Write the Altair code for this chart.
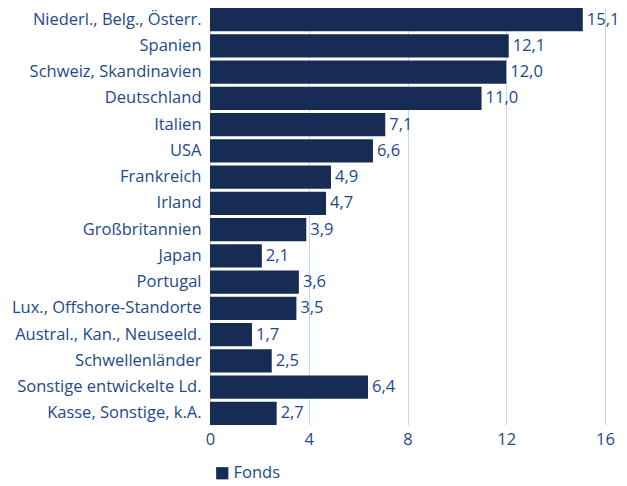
import altair as alt
import pandas as pd

categories = ["Niederl., Belg., Österr.", "Spanien", "Schweiz, Skandinavien", "Deutschland",
              "Italien", "USA", "Frankreich", "Irland", "Großbritannien", "Japan", "Portugal",
              "Lux., Offshore-Standorte", "Austral., Kan., Neuseeld.", "Schwellenländer",
              "Sonstige entwickelte Ld.", "Kasse, Sonstige, k.A."]
values = [15.1, 12.1, 12.0, 11.0, 7.1, 6.6, 4.9, 4.7, 3.9, 2.1, 3.6, 3.5, 1.7, 2.5, 6.4, 2.7]
series = ["Fonds"] * len(categories)
x_ticks = [0, 4, 8, 12, 16]

df = pd.DataFrame({"Land": categories, "Wert": values, "Serie": series})

FONT = "Open Sans"
FS = 16.5
TXT = "#1d4a8c"
BAR = "#172c55"
GRID = "#bcdde9"

base = alt.Chart(df).encode(
    y=alt.Y("Land:N", sort=categories, title=None,
            scale=alt.Scale(paddingInner=0.114, paddingOuter=0),
            axis=alt.Axis(domain=False, ticks=False, labelFont=FONT, labelFontSize=FS,
                          labelColor=TXT, labelPadding=9, labelLimit=300)),
)

bars = base.mark_bar().encode(
    x=alt.X("Wert:Q", title=None, scale=alt.Scale(domain=[0, 16], nice=False),
            axis=alt.Axis(values=x_ticks, domain=False, ticks=False, grid=True,
                          gridColor=GRID, gridWidth=1, labelFont=FONT, labelFontSize=FS,
                          labelColor=TXT, labelPadding=6, labelFlush=False)),
    color=alt.Color("Serie:N", scale=alt.Scale(range=[BAR]),
                    legend=alt.Legend(title=None, orient="none", legendX=4, legendY=457,
                                      symbolType="square", symbolSize=150, symbolStrokeWidth=0,
                                      labelFont=FONT, labelFontSize=FS, labelColor=TXT,
                                      symbolOffset=0, labelOffset=3)),
)

labels = base.mark_text(align="left", baseline="middle", dx=4, font=FONT, fontSize=FS,
                        color=TXT).encode(
    x=alt.X("Wert:Q"),
    text=alt.Text("lbl:N"),
).transform_calculate(lbl="replace(format(datum.Wert, '.1f'), '.', ',')")

chart = (bars + labels).properties(
    width=395, height=417,
    autosize=alt.AutoSizeParams(type="none"),
    padding={"left": 202, "top": 0, "right": 14, "bottom": 60},
).configure_view(stroke=None)

chart.save("out.html", embed_options={"renderer": "svg", "actions": False})
